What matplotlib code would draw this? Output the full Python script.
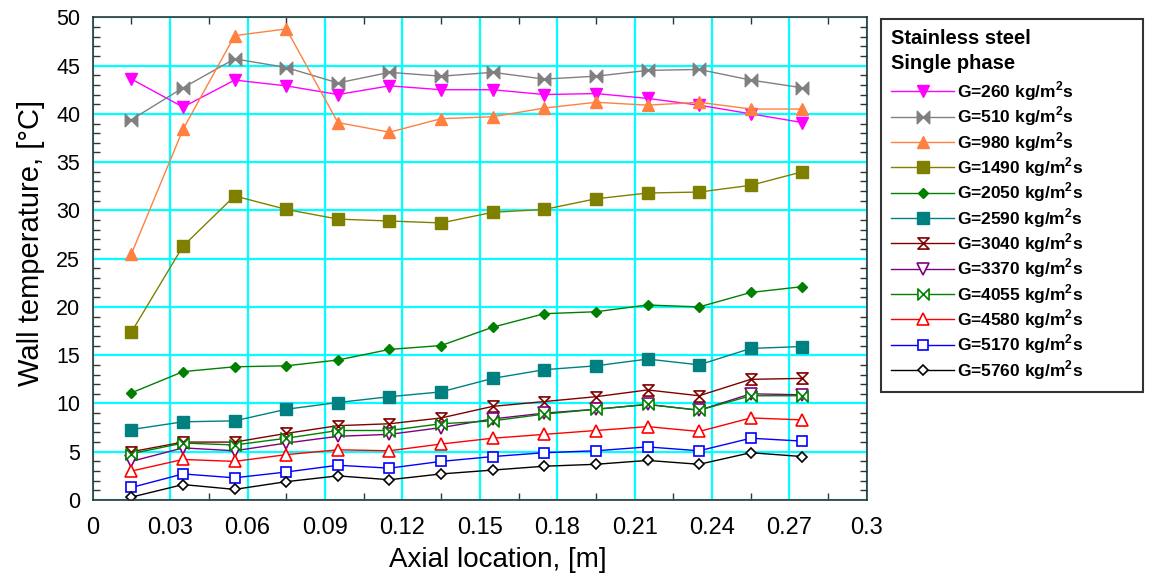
import numpy as np
import matplotlib
matplotlib.use('Agg')
from matplotlib import pyplot as plt
from matplotlib.path import Path
from matplotlib.ticker import MultipleLocator

plt.rcParams['font.family'] = ['Liberation Sans', 'DejaVu Sans']
plt.rcParams['mathtext.fontset'] = 'custom'
plt.rcParams['mathtext.rm'] = 'Liberation Sans'
plt.rcParams['mathtext.bf'] = 'Liberation Sans:bold'

# axial positions of the thermocouples [m]
z = [0.015, 0.035, 0.055, 0.075, 0.095, 0.115, 0.135,
     0.155, 0.175, 0.195, 0.215, 0.235, 0.255, 0.275]

# wall temperature for each mass flux G [kg/m2s]
g_values = [260, 510, 980, 1490, 2050, 2590, 3040, 3370, 4055, 4580, 5170, 5760]
t260 = [43.6, 40.7, 43.5, 42.9, 42.0, 42.9, 42.5, 42.5, 42.0, 42.1, 41.6, 40.9, 40.0, 39.1]
t510 = [39.4, 42.7, 45.7, 44.8, 43.2, 44.3, 43.9, 44.3, 43.6, 43.9, 44.5, 44.6, 43.5, 42.7]
t980 = [25.5, 38.4, 48.1, 48.8, 39.1, 38.1, 39.5, 39.7, 40.6, 41.2, 40.9, 41.2, 40.5, 40.5]
t1490 = [17.4, 26.3, 31.5, 30.1, 29.1, 28.9, 28.7, 29.8, 30.1, 31.2, 31.8, 31.9, 32.6, 34.0]
t2050 = [11.1, 13.3, 13.8, 13.9, 14.5, 15.6, 16.0, 17.9, 19.3, 19.5, 20.2, 20.0, 21.5, 22.1]
t2590 = [7.3, 8.1, 8.2, 9.4, 10.1, 10.7, 11.2, 12.6, 13.5, 13.9, 14.6, 14.0, 15.7, 15.9]
t3040 = [5.0, 6.0, 6.0, 6.9, 7.7, 7.9, 8.5, 9.7, 10.2, 10.7, 11.4, 10.8, 12.5, 12.6]
t3370 = [4.0, 5.4, 5.1, 5.9, 6.6, 6.8, 7.5, 8.4, 9.0, 9.4, 9.9, 9.3, 11.0, 10.9]
t4055 = [4.8, 5.9, 5.7, 6.4, 7.2, 7.2, 7.9, 8.2, 8.9, 9.4, 9.9, 9.3, 10.8, 10.8]
t4580 = [3.0, 4.2, 4.0, 4.7, 5.2, 5.1, 5.8, 6.4, 6.8, 7.2, 7.6, 7.1, 8.5, 8.3]
t5170 = [1.3, 2.7, 2.3, 2.9, 3.6, 3.3, 4.0, 4.5, 4.9, 5.1, 5.5, 5.1, 6.4, 6.1]
t5760 = [0.3, 1.6, 1.1, 1.9, 2.5, 2.1, 2.7, 3.1, 3.5, 3.7, 4.1, 3.7, 4.9, 4.5]
temps = [t260, t510, t980, t1490, t2050, t2590, t3040, t3370, t4055, t4580, t5170, t5760]

x_ticks = [0, 0.03, 0.06, 0.09, 0.12, 0.15, 0.18, 0.21, 0.24, 0.27, 0.3]
x_ticklabels = ['0', '0.03', '0.06', '0.09', '0.12', '0.15',
                '0.18', '0.21', '0.24', '0.27', '0.3']

# custom markers: horizontal bow-tie and vertical hourglass
bowtie = Path([(-1, -1), (0, 0), (-1, 1), (-1, -1), (1, -1), (0, 0), (1, 1), (1, -1)],
              [Path.MOVETO, Path.LINETO, Path.LINETO, Path.CLOSEPOLY,
               Path.MOVETO, Path.LINETO, Path.LINETO, Path.CLOSEPOLY])
hourglass = Path([(-1, 1), (1, 1), (0, 0), (-1, 1), (-1, -1), (1, -1), (0, 0), (-1, -1)],
                 [Path.MOVETO, Path.LINETO, Path.LINETO, Path.CLOSEPOLY,
                  Path.MOVETO, Path.LINETO, Path.LINETO, Path.CLOSEPOLY])

# (colour, marker, size, filled)
styles = [
    ('#ff00ff', 'v', 8.5, True),
    ('#808080', bowtie, 9, True),
    ('#ff8040', '^', 8.5, True),
    ('#808000', 's', 8.5, True),
    ('#008000', 'D', 5.5, True),
    ('#008080', 's', 8, True),
    ('#800000', hourglass, 8, False),
    ('#800080', 'v', 8, False),
    ('#008000', bowtie, 8, False),
    ('#ff0000', '^', 8, False),
    ('#0000ff', 's', 7.5, False),
    ('#000000', 'D', 5, False),
]

fig = plt.figure(figsize=(11.52, 5.81), dpi=100)
ax = fig.add_axes([0.0805, 0.1394, 0.672, 0.8308])

handles = []
for g, t, (col, mk, ms, filled) in zip(g_values, temps, styles):
    h, = ax.plot(z, t, color=col, lw=1.0, marker=mk, ms=ms,
                 mfc=col if filled else 'white', mec=col,
                 mew=1.0 if filled else 1.2,
                 label=r'G=%d kg/m$^{\mathbf{2}}$s' % g)
    handles.append(h)

ax.set_xlim(0, 0.3)
ax.set_ylim(0, 50)
ax.set_xticks(x_ticks)
ax.set_xticklabels(x_ticklabels)
ax.xaxis.set_minor_locator(MultipleLocator(0.015))
ax.yaxis.set_major_locator(MultipleLocator(5))
ax.yaxis.set_minor_locator(MultipleLocator(1))
ax.grid(True, which='major', color='#00ffff', lw=1.6)
ax.set_axisbelow(True)
ax.tick_params(which='major', length=0)
ax.tick_params(axis='x', which='major', labelsize=17, pad=12)
ax.tick_params(axis='y', which='major', labelsize=15.5, pad=9)
ax.tick_params(which='minor', direction='in', length=5, width=1, color='#333333',
               top=True, right=True)
for sp in ax.spines.values():
    sp.set_color('#333333')
    sp.set_linewidth(1.2)

ax.set_xlabel('Axial location, [m]', fontsize=20, labelpad=6)
ax.xaxis.label.set_x(0.523)
ax.set_ylabel('Wall temperature, [\u00b0C]', fontsize=21, labelpad=8)
ax.yaxis.label.set_y(0.533)

leg = fig.legend(handles=handles, loc='upper left',
                 bbox_to_anchor=(881 / 1152, 1 - 392 / 581, 262 / 1152, 373 / 581),
                 mode='expand', borderaxespad=0,
                 title='Stainless steel\nSingle phase', alignment='left',
                 title_fontproperties={'weight': 'bold', 'size': 14.5},
                 prop={'weight': 'bold', 'size': 12.5},
                 numpoints=1, handlelength=3.6, handletextpad=0.2,
                 labelspacing=0.1, borderpad=0.6, fancybox=False,
                 edgecolor='#333333', framealpha=1)
leg.get_frame().set_linewidth(1.5)
leg.get_title().set_linespacing(1.38)
leg._legend_box.sep = 4.5  # a bit more room between title and entries

fig.savefig('out.png', dpi=100)
